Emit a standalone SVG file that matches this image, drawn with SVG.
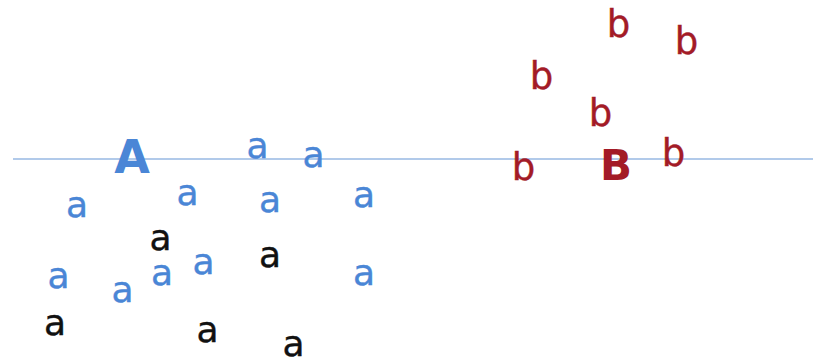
<svg xmlns="http://www.w3.org/2000/svg" width="813" height="359" viewBox="0 0 813 359">
<style>
text{font-family:"DejaVu Sans","Liberation Sans",sans-serif;text-anchor:middle}
.a{font-size:36px;fill:#4a86d6;stroke:#4a86d6;stroke-width:0.4}
.k{font-size:36px;fill:#111111;stroke:#111111;stroke-width:0.4}
.b{font-size:37px;fill:#a31b27;stroke:#a31b27;stroke-width:0.4}
.A{font-size:46px;font-weight:bold;fill:#4a86d6}
.B{font-size:42px;font-weight:bold;fill:#a31b27}
.axis{stroke:#6496d6;stroke-width:1.2}
</style>
<rect width="813" height="359" fill="#ffffff"/>
<g id="connectors">
<line class="axis" x1="13" y1="159" x2="813" y2="159"/>
</g>
<g id="A"><text class="A" x="132" y="173">A</text></g>
<g id="B"><text class="B" x="616" y="180">B</text></g>
<g id="blue-a">
<text class="a" x="257.5" y="158">a</text>
<text class="a" x="313.5" y="167">a</text>
<text class="a" x="77" y="217">a</text>
<text class="a" x="187.5" y="205">a</text>
<text class="a" x="270" y="212">a</text>
<text class="a" x="364" y="207">a</text>
<text class="a" x="58.5" y="288">a</text>
<text class="a" x="122.5" y="302">a</text>
<text class="a" x="162" y="285">a</text>
<text class="a" x="203.5" y="274">a</text>
<text class="a" x="364" y="285">a</text>
</g>
<g id="black-a">
<text class="k" x="160.5" y="250">a</text>
<text class="k" x="270" y="267">a</text>
<text class="k" x="55" y="335">a</text>
<text class="k" x="207.5" y="342">a</text>
<text class="k" x="293.5" y="356">a</text>
</g>
<g id="red-b">
<text class="b" x="618.5" y="37">b</text>
<text class="b" x="686.5" y="54">b</text>
<text class="b" x="541.5" y="89">b</text>
<text class="b" x="600.5" y="126">b</text>
<text class="b" x="673.5" y="166">b</text>
<text class="b" x="523.5" y="180">b</text>
</g>
</svg>
